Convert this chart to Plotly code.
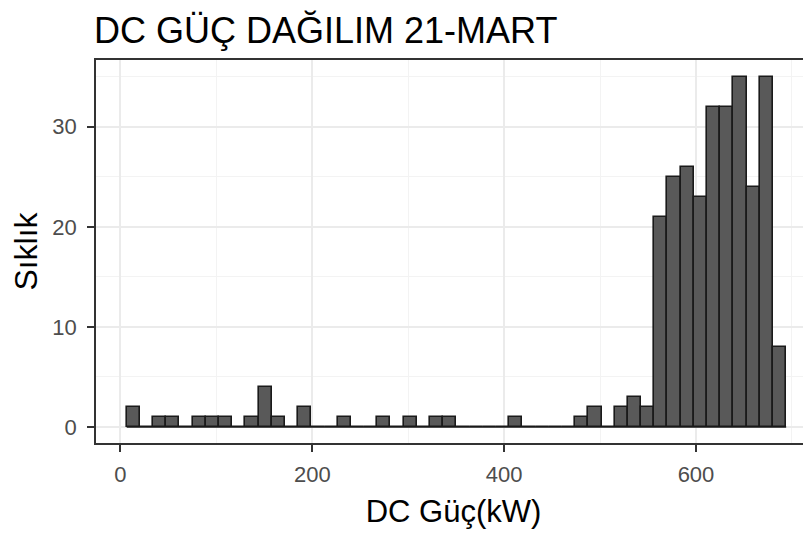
import plotly.graph_objects as go

# Histogram of DC power (kW), 50 bins
bin_start = 6.5      # left edge of first bin (kW)
bin_width = 13.75    # bin width (kW)
counts = [2, 0, 1, 1, 0, 1, 1, 1, 0, 1,
          4, 1, 0, 2, 0, 0, 1, 0, 0, 1,
          0, 1, 0, 1, 1, 0, 0, 0, 0, 1,
          0, 0, 0, 0, 1, 2, 0, 2, 3, 2,
          21, 25, 26, 23, 32, 32, 35, 24, 35, 8]
x_ticks = [0, 200, 400, 600]
y_ticks = [0, 10, 20, 30]

title_text = "DC GÜÇ DAĞILIM 21-MART"
x_title = "DC Güç(kW)"
y_title = "Sıklık"

centers = [bin_start + bin_width * (i + 0.5) for i in range(len(counts))]
edges_span = [bin_start, bin_start + bin_width * len(counts)]

FONT = "Liberation Sans, Arial, sans-serif"
# the page body adds an 8px offset; layout numbers below compensate for it
W, H = 811, 533

fig = go.Figure()
fig.add_trace(go.Scatter(
    x=edges_span, y=[0, 0], mode="lines",
    line=dict(color="#1a1a1a", width=1.6), hoverinfo="skip", showlegend=False))
fig.add_trace(go.Bar(
    x=centers, y=counts, width=bin_width,
    marker=dict(color="#595959", line=dict(color="#1a1a1a", width=1.6)),
    showlegend=False))

fig.update_layout(
    width=W, height=H,
    margin=dict(l=88, r=8, t=52, b=98, autoexpand=False),
    plot_bgcolor="white", paper_bgcolor="white",
    font=dict(family=FONT, color="black"),
    bargap=0,
    title=dict(text=title_text, x=86 / W, xanchor="left", xref="container",
               y=1 - 22 / H, yanchor="middle", yref="container",
               font=dict(size=36, color="black", family=FONT)),
)
fig.update_xaxes(
    range=[-25.5, 719.9], tickvals=x_ticks, automargin=False,
    ticks="outside", ticklen=7, tickwidth=1.5, tickcolor="#333333",
    ticklabelstandoff=4,
    tickfont=dict(size=22, color="#4D4D4D", family=FONT),
    showline=True, linecolor="#333333", linewidth=1.6, mirror=True,
    showgrid=True, gridcolor="#EBEBEB", gridwidth=1.6,
    minor=dict(dtick=100, tick0=100, showgrid=True, gridcolor="#F3F3F3", gridwidth=1),
    zeroline=False,
    title=dict(text=x_title, font=dict(size=31, color="black", family=FONT), standoff=14),
)
fig.update_yaxes(
    range=[-1.6, 36.67], tickvals=y_ticks, automargin=False,
    ticks="outside", ticklen=7, tickwidth=1.5, tickcolor="#333333",
    ticklabelstandoff=6,
    tickfont=dict(size=22, color="#4D4D4D", family=FONT),
    showline=True, linecolor="#333333", linewidth=1.6, mirror=False,
    showgrid=True, gridcolor="#EBEBEB", gridwidth=1.6,
    minor=dict(dtick=10, tick0=5, showgrid=True, gridcolor="#F3F3F3", gridwidth=1),
    zeroline=False,
    title=dict(text=y_title, font=dict(size=32, color="black", family=FONT), standoff=12),
)

fig.write_html("out.html")
